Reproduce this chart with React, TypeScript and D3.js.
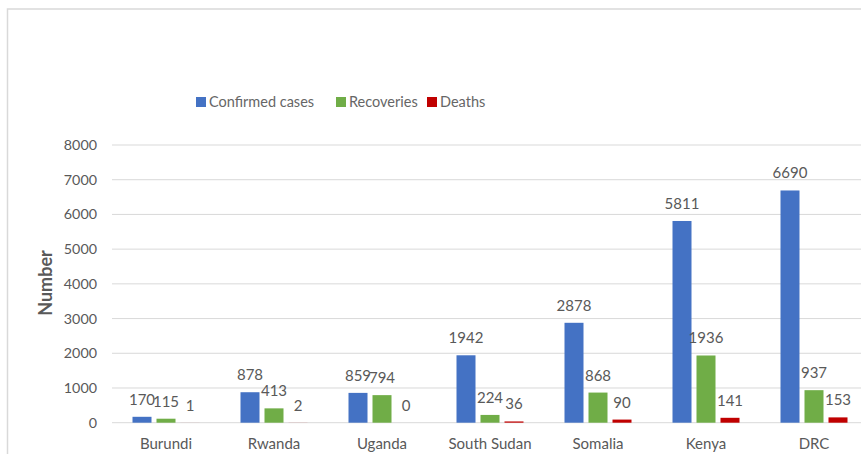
import React, { useEffect, useRef } from 'react';
import * as d3 from 'd3';

const countries = ['Burundi', 'Rwanda', 'Uganda', 'South Sudan', 'Somalia', 'Kenya', 'DRC'];
const confirmed = [170, 878, 859, 1942, 2878, 5811, 6690];
const recoveries = [115, 413, 794, 224, 868, 1936, 937];
const deaths = [1, 2, 0, 36, 90, 141, 153];
const seriesNames = ['Confirmed cases', 'Recoveries', 'Deaths'];
const seriesColors = ['#4472C4', '#70AD47', '#C00000'];
const yTicks = [0, 1000, 2000, 3000, 4000, 5000, 6000, 7000, 8000];

export default function App() {
  const svgRef = useRef<SVGSVGElement | null>(null);

  useEffect(() => {
    const svg = d3.select(svgRef.current);
    svg.selectAll('*').remove();

    const font = 'Lato, "Open Sans", sans-serif';
    const textColor = '#595959';

    // chart frame (cut off at right and bottom)
    svg.append('rect')
      .attr('x', 7.5).attr('y', 9)
      .attr('width', 900).attr('height', 500)
      .attr('fill', '#fff').attr('stroke', '#d9d9d9').attr('stroke-width', 1.5);

    const left = 112;
    const right = 868;
    const top = 145;
    const bottom = 422.7;

    const x = d3.scaleBand().domain(countries).range([left, right]);
    const y = d3.scaleLinear().domain([0, 8000]).range([bottom, top]);

    // gridlines
    svg.append('g')
      .selectAll('line')
      .data(yTicks)
      .join('line')
      .attr('x1', left).attr('x2', right)
      .attr('y1', d => y(d)).attr('y2', d => y(d))
      .attr('stroke', '#d9d9d9').attr('stroke-width', 1);

    // y tick labels
    svg.append('g')
      .selectAll('text')
      .data(yTicks)
      .join('text')
      .attr('x', 97).attr('y', d => y(d))
      .attr('dy', '0.35em')
      .attr('text-anchor', 'end')
      .attr('font-family', font).attr('font-size', 14.3)
      .attr('fill', textColor)
      .text(d => d);

    // y axis title
    svg.append('text')
      .attr('transform', `translate(52,283) rotate(-90)`)
      .attr('text-anchor', 'middle')
      .attr('font-family', font).attr('font-size', 18).attr('font-weight', 'bold')
      .attr('fill', textColor)
      .text('Number');

    // bars
    const series = [confirmed, recoveries, deaths];
    const barW = 19;
    const gap = 5;
    const groupW = barW * 3 + gap * 2;
    series.forEach((vals, si) => {
      const g = svg.append('g');
      const bx = (i: number) => x(countries[i])! + x.bandwidth() / 2 - groupW / 2 + si * (barW + gap);
      g.selectAll('rect')
        .data(vals)
        .join('rect')
        .attr('x', (_, i) => bx(i))
        .attr('y', d => y(d))
        .attr('width', barW)
        .attr('height', d => bottom - y(d))
        .attr('fill', seriesColors[si]);
      g.selectAll('text')
        .data(vals)
        .join('text')
        .attr('x', (_, i) => bx(i) + barW / 2)
        .attr('y', d => y(d) - 12)
        .attr('text-anchor', 'middle')
        .attr('font-family', font).attr('font-size', 15)
        .attr('fill', textColor)
        .text(d => d);
    });

    // category labels
    svg.append('g')
      .selectAll('text')
      .data(countries)
      .join('text')
      .attr('x', d => x(d)! + x.bandwidth() / 2)
      .attr('y', 449)
      .attr('text-anchor', 'middle')
      .attr('font-family', font).attr('font-size', 15)
      .attr('fill', textColor)
      .text(d => d);

    // legend
    const legendX = [196, 336, 427];
    const lg = svg.append('g');
    seriesNames.forEach((name, i) => {
      lg.append('rect')
        .attr('x', legendX[i]).attr('y', 97)
        .attr('width', 10).attr('height', 10)
        .attr('fill', seriesColors[i]);
      lg.append('text')
        .attr('x', legendX[i] + 13).attr('y', 102)
        .attr('dy', '0.35em')
        .attr('font-family', font).attr('font-size', 14.5)
        .attr('fill', '#666')
        .text(name);
    });
  }, []);

  return (
    <svg
      ref={svgRef}
      width={861}
      height={454}
      style={{ position: 'absolute', left: 0, top: 0, background: '#fff' }}
    />
  );
}
